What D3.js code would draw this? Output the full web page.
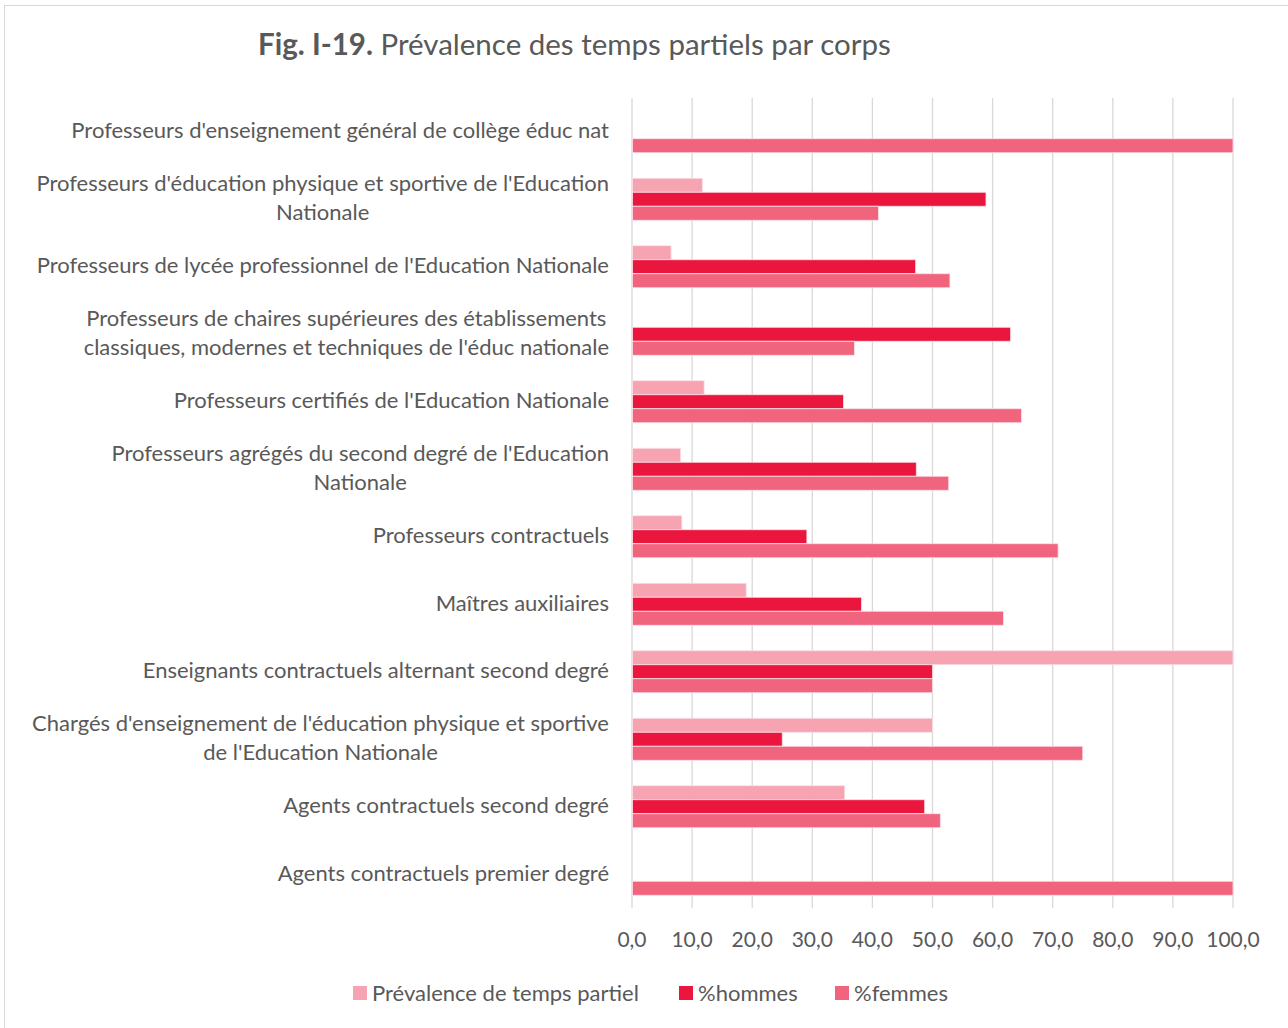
<!DOCTYPE html>
<html>
<head>
<meta charset="utf-8">
<script src="https://cdn.jsdelivr.net/npm/d3@7"></script>
<style>
  body { margin: 0; background: #fff; }
  text { font-family: Lato, "Open Sans", sans-serif; fill: #595959; }
</style>
</head>
<body>
<script>
const categories = [
  ["Professeurs d'enseignement général de collège éduc nat"],
  ["Professeurs d'éducation physique et sportive de l'Education", "Nationale"],
  ["Professeurs de lycée professionnel de l'Education Nationale"],
  ["Professeurs de chaires supérieures des établissements", "classiques, modernes et techniques de l'éduc nationale"],
  ["Professeurs certifiés de l'Education Nationale"],
  ["Professeurs agrégés du second degré de l'Education", "Nationale"],
  ["Professeurs contractuels"],
  ["Maîtres auxiliaires"],
  ["Enseignants contractuels alternant second degré"],
  ["Chargés d'enseignement de l'éducation physique et sportive", "de l'Education Nationale"],
  ["Agents contractuels second degré"],
  ["Agents contractuels premier degré"]
];

const prevalence = [0, 11.7, 6.5, 0, 12.0, 8.1, 8.3, 19.0, 100, 50, 35.4, 0];
const hommes     = [0, 58.9, 47.2, 63.0, 35.2, 47.3, 29.1, 38.2, 50, 25.0, 48.7, 0];
const femmes     = [100, 41.0, 52.9, 37.0, 64.8, 52.7, 70.9, 61.8, 50, 75.0, 51.3, 100];

const seriesNames = ["Prévalence de temps partiel", "%hommes", "%femmes"];
const seriesColors = ["#f6a3b2", "#eb163e", "#f0647e"];
const ticks = [0, 10, 20, 30, 40, 50, 60, 70, 80, 90, 100];

const W = 1288, H = 1028;
const plot = {left: 632, right: 1233, top: 98, bottom: 908};

const svg = d3.select("body").append("svg")
  .attr("width", W)
  .attr("height", H);

// chart border
svg.append("rect")
  .attr("x", 4.5).attr("y", 5.5)
  .attr("width", W + 10).attr("height", H + 10)
  .attr("fill", "#fff")
  .attr("stroke", "#d9d9d9")
  .attr("stroke-width", 1);

// title
const title = svg.append("text")
  .attr("x", 258).attr("y", 55)
  .attr("font-size", 29.5);
title.append("tspan").attr("font-weight", "bold").text("Fig. I-19.");
title.append("tspan").text(" Prévalence des temps partiels par corps");

const x = d3.scaleLinear()
  .domain([0, 100])
  .range([plot.left, plot.right]);

const y = d3.scaleBand()
  .domain(d3.range(categories.length))
  .range([plot.top, plot.bottom]);

const inner = d3.scaleBand()
  .domain(d3.range(3))
  .range([0, 42]);

// gridlines
svg.append("g")
  .selectAll("line")
  .data(ticks)
  .join("line")
  .attr("x1", d => x(d)).attr("x2", d => x(d))
  .attr("y1", plot.top).attr("y2", plot.bottom)
  .attr("stroke", "#d9d9d9")
  .attr("stroke-width", 1.3);

// tick labels
svg.append("g")
  .selectAll("text")
  .data(ticks)
  .join("text")
  .attr("x", d => x(d))
  .attr("y", 940)
  .attr("dy", "0.35em")
  .attr("text-anchor", "middle")
  .attr("font-size", 21)
  .text(d => d3.format(".1f")(d).replace(".", ","));

// bars
const series = [prevalence, hommes, femmes];
const groups = svg.append("g")
  .selectAll("g")
  .data(categories)
  .join("g")
  .attr("transform", (d, i) => `translate(0,${y(i) + (y.bandwidth() - 42) / 2})`);

groups.selectAll("rect")
  .data((d, i) => series.map((s, k) => ({k, v: s[i]})))
  .join("rect")
  .filter(d => d.v > 0)
  .attr("x", x(0) + 0.5)
  .attr("y", d => inner(d.k))
  .attr("width", d => x(d.v) - x(0) - 0.5)
  .attr("height", inner.bandwidth())
  .attr("fill", d => seriesColors[d.k])
  .attr("stroke", "#fbe0e6")
  .attr("stroke-width", 0.8);

// category labels: block right-aligned, lines centred in block
const lineH = 29;
const labels = svg.append("g")
  .selectAll("g")
  .data(categories)
  .join("g");

labels.each(function(lines, i) {
  const g = d3.select(this);
  const cy = y(i) + y.bandwidth() / 2;
  const ts = g.selectAll("text")
    .data(lines)
    .join("text")
    .attr("font-size", 22)
    .attr("text-anchor", "middle")
    .attr("dy", "0.35em")
    .attr("y", (d, j) => cy + (j - (lines.length - 1) / 2) * lineH - 1)
    .text(d => d);
  const maxW = d3.max(ts.nodes(), n => n.getComputedTextLength());
  ts.attr("x", 609 - maxW / 2);
});

// legend
const legendX = [353, 679, 835];
const legend = svg.append("g")
  .selectAll("g")
  .data(seriesNames)
  .join("g")
  .attr("transform", (d, i) => `translate(${legendX[i]},993)`);

legend.append("rect")
  .attr("x", 0).attr("y", -7)
  .attr("width", 14).attr("height", 14)
  .attr("fill", (d, i) => seriesColors[i]);

legend.append("text")
  .attr("x", 19)
  .attr("dy", "0.35em")
  .attr("font-size", 22)
  .text(d => d);
</script>
</body>
</html>
